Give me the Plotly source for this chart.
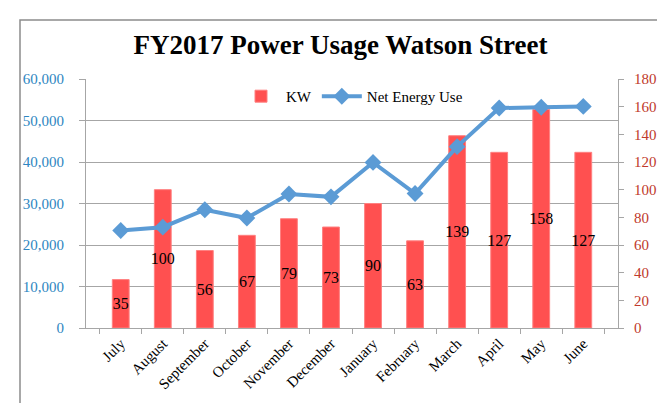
import plotly.graph_objects as go

months = ["July", "August", "September", "October", "November", "December",
          "January", "February", "March", "April", "May", "June"]
kw = [35, 100, 56, 67, 79, 73, 90, 63, 139, 127, 158, 127]
net_energy = [23500, 24300, 28500, 26500, 32300, 31600, 39900, 32400, 43700, 53000, 53200, 53400]

SERIF = "Liberation Serif, Times New Roman, serif"
GRID = "#A6A6A6"

fig = go.Figure()
fig.add_trace(go.Bar(
    x=months, y=kw, name="KW", yaxis="y",
    marker=dict(color="#FF5050", line=dict(color="#FF8080", width=1)),
    text=[str(v) for v in kw], textposition="inside", insidetextanchor="middle",
    constraintext="none",
    textfont=dict(family=SERIF, size=16, color="black"), textangle=0,
))
fig.add_trace(go.Scatter(
    x=months, y=net_energy, name="Net Energy Use", yaxis="y2",
    mode="lines+markers",
    line=dict(color="#5B9BD5", width=4),
    marker=dict(symbol="diamond", size=13, color="#5B9BD5"),
))

fig.update_layout(
    width=665, height=403,
    margin=dict(l=78, r=55, t=71, b=83),
    paper_bgcolor="white", plot_bgcolor="white",
    uniformtext=dict(minsize=16, mode="show"),
    title=dict(text="<b>FY2017 Power Usage Watson Street</b>", x=0.5, xanchor="center",
               y=0.91, yanchor="middle",
               font=dict(family=SERIF, size=27, color="black")),
    bargap=0.6,
    showlegend=True,
    legend=dict(orientation="h", x=0.5, xanchor="center", y=0.93, yanchor="middle",
                font=dict(family=SERIF, size=15, color="black"),
                bgcolor="rgba(0,0,0,0)", itemwidth=40, traceorder="normal"),
    xaxis=dict(type="category", showline=True, linecolor=GRID, linewidth=1,
               ticks="outside", tickson="boundaries", ticklen=5, tickcolor=GRID,
               tickangle=-45, tickfont=dict(family=SERIF, size=15, color="black"),
               showgrid=False),
    yaxis=dict(side="right", range=[0, 180], dtick=20, showgrid=False,
               showline=True, linecolor=GRID, ticks="outside", ticklen=5, tickcolor=GRID,
               ticklabelstandoff=7,
               tickfont=dict(family=SERIF, size=15, color="#C0392B"), zeroline=False),
    yaxis2=dict(side="left", overlaying="y", range=[0, 60000], dtick=10000,
                tickformat=",", showgrid=True, gridcolor=GRID, gridwidth=1,
                showline=True, linecolor=GRID, ticks="outside", ticklen=6, tickcolor=GRID,
                ticklabelstandoff=12,
                tickfont=dict(family=SERIF, size=15, color="#2E86C1"), zeroline=False),
    shapes=[dict(type="rect", xref="paper", yref="paper",
                 x0=(12 - 78) / 532, x1=(656 - 78) / 532,
                 y0=-0.5, y1=(320 - 12) / 249,
                 line=dict(color="#8C8C8C", width=1.5), layer="below")],
)

fig.write_html("out.html")
